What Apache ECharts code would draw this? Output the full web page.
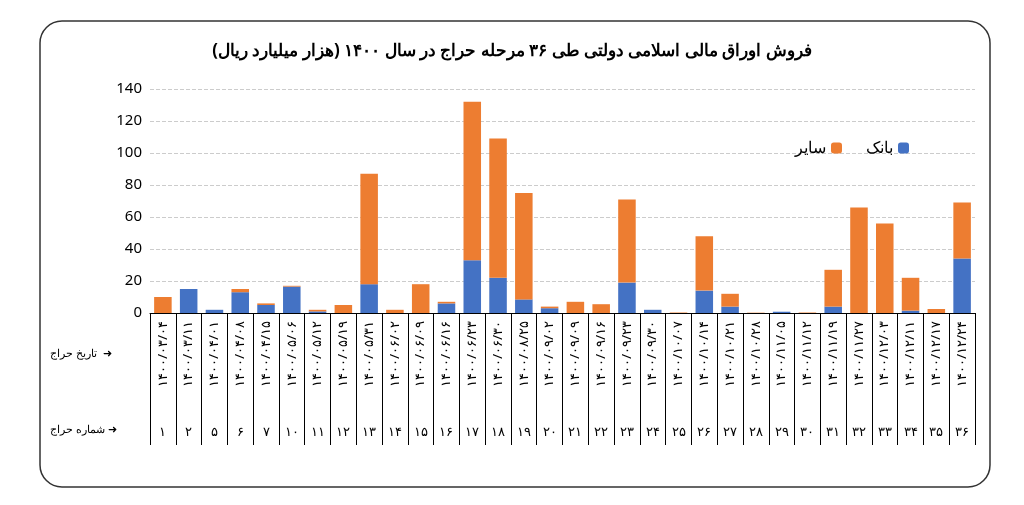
<!DOCTYPE html><html><head><meta charset="utf-8"><script src="https://cdn.jsdelivr.net/npm/echarts@6/dist/echarts.min.js"></script>
<style>body{margin:0;background:#fff}#c{width:1024px;height:505px}</style></head><body><div id="c"></div><script>
const nums=['۱','۲','۵','۶','۷','۱۰','۱۱','۱۲','۱۳','۱۴','۱۵','۱۶','۱۷','۱۸','۱۹','۲۰','۲۱','۲۲','۲۳','۲۴','۲۵','۲۶','۲۷','۲۸','۲۹','۳۰','۳۱','۳۲','۳۳','۳۴','۳۵','۳۶'];
const dates=['۱۴۰۰/۰۳/۰۴','۱۴۰۰/۰۳/۱۱','۱۴۰۰/۰۴/۰۱','۱۴۰۰/۰۴/۰۸','۱۴۰۰/۰۴/۱۵','۱۴۰۰/۰۵/۰۶','۱۴۰۰/۰۵/۱۲','۱۴۰۰/۰۵/۱۹','۱۴۰۰/۰۵/۳۱','۱۴۰۰/۰۶/۰۲','۱۴۰۰/۰۶/۰۹','۱۴۰۰/۰۶/۱۶','۱۴۰۰/۰۶/۲۳','۱۴۰۰/۰۶/۳۰','۱۴۰۰/۰۸/۲۵','۱۴۰۰/۰۹/۰۲','۱۴۰۰/۰۹/۰۹','۱۴۰۰/۰۹/۱۶','۱۴۰۰/۰۹/۲۳','۱۴۰۰/۰۹/۳۰','۱۴۰۰/۱۰/۰۷','۱۴۰۰/۱۰/۱۴','۱۴۰۰/۱۰/۲۱','۱۴۰۰/۱۰/۲۸','۱۴۰۰/۱۱/۰۵','۱۴۰۰/۱۱/۱۲','۱۴۰۰/۱۱/۱۹','۱۴۰۰/۱۱/۲۷','۱۴۰۰/۱۲/۰۳','۱۴۰۰/۱۲/۱۱','۱۴۰۰/۱۲/۱۷','۱۴۰۰/۱۲/۲۴'];
const bank=[0,15,2,13,5,16.5,1,0,18,0,0,6,33,22,8.5,3,0,0,19,2,0,14,4,0,0.8,0,4,0,0,1.5,0,34];
const other=[10,0,0,2,1,0.5,1,5,69,2,18,1,99,87,66.5,1,7,5.5,52,0,0.3,34,8,0.2,0,0.3,23,66,56,20.5,2.5,35];
const yTicks=[0,20,40,60,80,100,120,140];
const c=echarts.init(document.getElementById('c'));
const F='"Noto Sans",sans-serif';
c.setOption({
 graphic:[{type:'rect',shape:{x:40,y:21,width:950,height:466,r:22},style:{fill:'none',stroke:'#333',lineWidth:1.5}},
  {type:'text',left:50,top:348,style:{text:'تاریخ حراج  ➜',font:'11px '+F,fill:'#000'}},
  {type:'text',left:50,top:424,style:{text:'شماره حراج ➜',font:'11px '+F,fill:'#000'}}],
 title:{text:'فروش اوراق مالی اسلامی دولتی طی ۳۶ مرحله حراج در سال ۱۴۰۰ (هزار میلیارد ریال)',left:'center',top:38,textStyle:{fontFamily:F,fontSize:17,fontWeight:'bold',color:'#000'}},
 legend:{data:['سایر','بانک'],left:790,top:135,align:'right',itemWidth:11,itemHeight:11,itemGap:24,textStyle:{fontFamily:F,fontSize:16,color:'#000'}},
 grid:{left:150,right:49,top:89,bottom:192},
 xAxis:[{type:'category',data:dates,axisLine:{lineStyle:{color:'#000'}},axisTick:{show:true,length:132,lineStyle:{color:'#000'}},axisLabel:{rotate:90,interval:0,fontFamily:F,fontSize:13,color:'#000',margin:8}},
  {type:'category',data:nums,position:'bottom',axisLine:{show:false},axisTick:{show:false},axisLabel:{interval:0,fontFamily:F,fontSize:13,color:'#000',margin:113}}],
 yAxis:{type:'value',min:0,max:140,interval:20,axisLabel:{fontFamily:F,fontSize:15,color:'#000'},splitLine:{lineStyle:{type:'dashed',color:'#ccc'}}},
 series:[{name:'بانک',type:'bar',stack:'a',barWidth:'68%',data:bank,itemStyle:{color:'#4472C4'}},
  {name:'سایر',type:'bar',stack:'a',data:other,itemStyle:{color:'#ED7D31'}}]
});
</script></body></html>
